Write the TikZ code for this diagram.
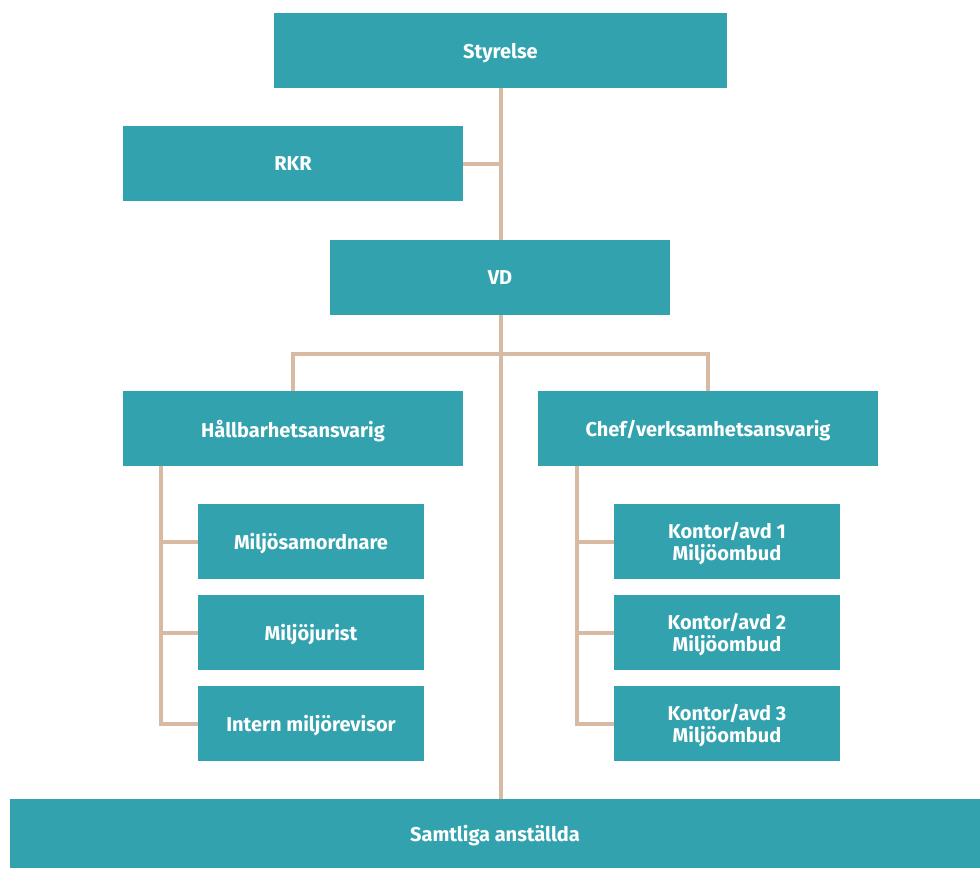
\documentclass[tikz,border=0pt]{standalone}
\usepackage{fontspec}
\setmainfont{Fira Sans}
\usepackage{tikz}
\usetikzlibrary{positioning,backgrounds}
\definecolor{orgteal}{RGB}{50,163,174}
\definecolor{orgbeige}{RGB}{214,186,164}
\tikzstyle{unit} = [rectangle, minimum height=75pt, text centered, align=center, fill=orgteal, text=white, font=\fontsize{20}{22}\selectfont\bfseries, inner sep=0pt, text depth=0pt]
\tikzstyle{link} = [line width=4pt, color=orgbeige]
\begin{document}
\begin{tikzpicture}[x=1pt, y=-1pt]
\useasboundingbox (0,0) rectangle (980,868);
% top of the organisation
\node[unit, minimum width=453pt] (styrelse) at (500.5,50.5) {Styrelse};
\node[unit, minimum width=340pt] (rkr) at (293,163.5) {RKR};
\node[unit, minimum width=340pt] (vd) at (500,277.5) {VD};
\node[unit, minimum width=340pt] (hallbar) at (293,428.5) {Hållbarhetsansvarig};
\node[unit, minimum width=340pt] (chef) at (708,428.5) {Chef/verksamhetsansvarig};

% sub units
\node[unit, minimum width=226pt] (samord) at (311,541.5) {Miljösamordnare};
\node[unit, minimum width=226pt] (jurist) at (311,632.5) {Miljöjurist};
\node[unit, minimum width=226pt] (revisor) at (311,723.5) {Intern miljörevisor};
\node[unit, minimum width=226pt] (kontor1) at (727,541.5) {Kontor/avd 1\\Miljöombud};
\node[unit, minimum width=226pt] (kontor2) at (727,632.5) {Kontor/avd 2\\Miljöombud};
\node[unit, minimum width=226pt] (kontor3) at (727,723.5) {Kontor/avd 3\\Miljöombud};

\node[unit, minimum width=970pt, minimum height=69pt] (alla) at (495,833.5) {Samtliga anställda};

% connectors
\begin{scope}[on background layer]
\coordinate (spine) at (501,164);
\coordinate (split) at (501,353.5);
\draw[link] (styrelse.south -| spine) -- (alla.north -| spine);
\draw[link] (rkr.east |- spine) -- (spine);
\draw[link] (hallbar.north) -- (hallbar.north |- split) -- (chef.north |- split) -- (chef.north);

\coordinate (lspine) at (161,466);
\coordinate (rspine) at (577,466);
\draw[link] (lspine) -- (lspine |- revisor.west) -- (revisor.west);
\draw[link] (lspine |- samord.west) -- (samord.west);
\draw[link] (lspine |- jurist.west) -- (jurist.west);
\draw[link] (rspine) -- (rspine |- kontor3.west) -- (kontor3.west);
\draw[link] (rspine |- kontor1.west) -- (kontor1.west);
\draw[link] (rspine |- kontor2.west) -- (kontor2.west);
\end{scope}
\end{tikzpicture}
\end{document}
